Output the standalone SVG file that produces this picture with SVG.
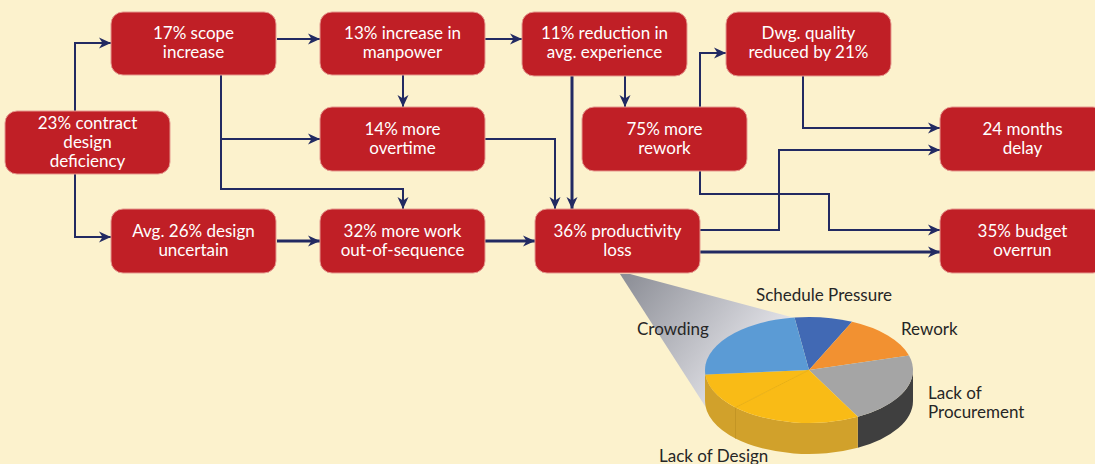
<svg xmlns="http://www.w3.org/2000/svg" width="1095" height="464" viewBox="0 0 1095 464">
<style>
.box{fill:#c01f26;stroke:#e59a8f;stroke-width:1}
.bt{fill:#ffffff;font-family:Lato,"Liberation Sans",sans-serif;font-size:17px;text-anchor:middle}
.lbl{fill:#262626;font-family:Lato,"Liberation Sans",sans-serif;font-size:17px}
.c{fill:none;stroke:#222a62;stroke-width:2;marker-end:url(#ah)}
.ct{fill:none;stroke:#222a62;stroke-width:3;marker-end:url(#ah)}
</style>
<defs>
<marker id="ah" markerUnits="userSpaceOnUse" markerWidth="12" markerHeight="12" viewBox="0 0 12 12" refX="12" refY="6" orient="auto">
<path d="M0,0.5 L12,6 L0,11.5 L3.5,6 Z" fill="#222a62"/>
</marker>
<linearGradient id="zg" x1="625" y1="274" x2="760" y2="380" gradientUnits="userSpaceOnUse">
<stop offset="0" stop-color="#8c8e96"/>
<stop offset="1" stop-color="#e9e9ee"/>
</linearGradient>
</defs>
<rect width="1095" height="464" fill="#fcf2cd"/>

<g id="connectors">
<path class="c" d="M75,111 V43 H111"/>
<path class="c" d="M75,174 V237 H111"/>
<path class="c" d="M277,39 H320"/>
<path class="c" d="M485,39 H522"/>
<path class="c" d="M403,75 V107"/>
<path class="c" d="M221,75 V139 H320"/>
<path class="c" d="M221,139 V189 H403 V209"/>
<path class="ct" d="M277,241 H320"/>
<path class="ct" d="M485,241 H535"/>
<path class="c" d="M485,139 H555 V209"/>
<path class="ct" d="M572,76 V209"/>
<path class="c" d="M625,76 V107"/>
<path class="c" d="M700,107 V53 H726"/>
<path class="c" d="M803,76 V128 H940"/>
<path class="c" d="M700,230 H779 V150 H940"/>
<path class="c" d="M700,171 V194 H829 V230 H940"/>
<path class="ct" d="M700,252 H940"/>
</g>

<g id="n23"><rect class="box" x="5" y="111" width="165" height="63" rx="12"/>
<text class="bt" x="87.5" y="129">23% contract</text><text class="bt" x="87.5" y="148">design</text><text class="bt" x="87.5" y="167">deficiency</text></g>
<g id="n17"><rect class="box" x="111" y="12" width="165" height="63" rx="12"/>
<text class="bt" x="193.5" y="39">17% scope</text><text class="bt" x="193.5" y="58">increase</text></g>
<g id="n13"><rect class="box" x="320" y="12" width="165" height="63" rx="12"/>
<text class="bt" x="402.5" y="39">13% increase in</text><text class="bt" x="402.5" y="58">manpower</text></g>
<g id="n11"><rect class="box" x="522" y="12" width="165" height="64" rx="12"/>
<text class="bt" x="604.5" y="39">11% reduction in</text><text class="bt" x="604.5" y="58">avg. experience</text></g>
<g id="ndwg"><rect class="box" x="726" y="12" width="165" height="64" rx="12"/>
<text class="bt" x="808.5" y="39">Dwg. quality</text><text class="bt" x="808.5" y="58">reduced by 21%</text></g>
<g id="n14"><rect class="box" x="320" y="107" width="165" height="64" rx="12"/>
<text class="bt" x="402.5" y="135">14% more</text><text class="bt" x="402.5" y="154">overtime</text></g>
<g id="n75"><rect class="box" x="582" y="107" width="165" height="64" rx="12"/>
<text class="bt" x="664.5" y="135">75% more</text><text class="bt" x="664.5" y="154">rework</text></g>
<g id="n24"><rect class="box" x="940" y="107" width="165" height="64" rx="12"/>
<text class="bt" x="1022.5" y="135">24 months</text><text class="bt" x="1022.5" y="154">delay</text></g>
<g id="navg"><rect class="box" x="111" y="209" width="165" height="64" rx="12"/>
<text class="bt" x="193.5" y="237">Avg. 26% design</text><text class="bt" x="193.5" y="256">uncertain</text></g>
<g id="n32"><rect class="box" x="320" y="209" width="165" height="64" rx="12"/>
<text class="bt" x="402.5" y="237">32% more work</text><text class="bt" x="402.5" y="256">out-of-sequence</text></g>
<g id="n36"><rect class="box" x="535" y="209" width="165" height="64" rx="12"/>
<text class="bt" x="617.5" y="237">36% productivity</text><text class="bt" x="617.5" y="256">loss</text></g>
<g id="n35"><rect class="box" x="940" y="209" width="165" height="64" rx="12"/>
<text class="bt" x="1022.5" y="237">35% budget</text><text class="bt" x="1022.5" y="256">overrun</text></g>

<g id="pie">
<polygon points="620,274 630,274 795,318 705,406" fill="url(#zg)"/>
<path d="M913,370 A104,53 0 0 1 857.8,416.8 L857.8,447.8 A104,53 0 0 0 913,401 Z" fill="#3f3f3f"/>
<path d="M857.8,416.8 A104,53 0 0 1 735.5,407.5 L735.5,438.5 A104,53 0 0 0 857.8,447.8 Z" fill="#d1a12b"/>
<path d="M735.5,407.5 A104,53 0 0 1 705,370 L705,401 A104,53 0 0 0 735.5,438.5 Z" fill="#d1a12b"/>
<line x1="735.5" y1="407.5" x2="735.5" y2="438.5" stroke="#c39524" stroke-width="1"/>
<path d="M809,370 L794.5,317.5 A104,53 0 0 1 852.1,321.8 Z" fill="#4169b4"/>
<path d="M809,370 L852.1,321.8 A104,53 0 0 1 909,355.4 Z" fill="#f29131"/>
<path d="M809,370 L909,355.4 A104,53 0 0 1 857.8,416.8 Z" fill="#a5a5a5"/>
<path d="M809,370 L857.8,416.8 A104,53 0 0 1 735.5,407.5 Z" fill="#f9bb16"/>
<path d="M809,370 L735.5,407.5 A104,53 0 0 1 705.4,374.6 Z" fill="#f9bb16"/>
<path d="M809,370 L705.4,374.6 A104,53 0 0 1 794.5,317.5 Z" fill="#5b9bd5"/>
<line x1="809" y1="370" x2="735.5" y2="407.5" stroke="#eab013" stroke-width="1"/>
<text class="lbl" x="756" y="301">Schedule Pressure</text>
<text class="lbl" x="637" y="335">Crowding</text>
<text class="lbl" x="901" y="335">Rework</text>
<text class="lbl" x="928" y="399">Lack of</text>
<text class="lbl" x="928" y="418">Procurement</text>
<text class="lbl" x="659" y="462">Lack of Design</text>
</g>
</svg>
